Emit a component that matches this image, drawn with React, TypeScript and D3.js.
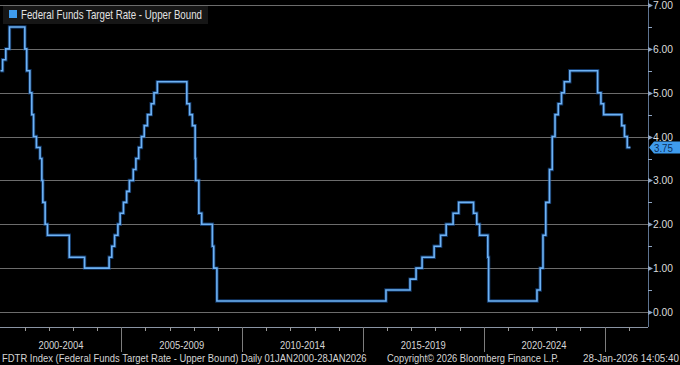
import { useEffect, useRef } from 'react';
import * as d3 from 'd3';

// FDTR upper bound: date of each change and the new level
const changeDates = [
  '2000-01-01', '2000-02-02', '2000-03-21', '2000-05-16',
  '2001-01-03', '2001-01-31', '2001-03-20', '2001-04-18', '2001-05-15', '2001-06-27',
  '2001-08-21', '2001-09-17', '2001-10-02', '2001-11-06', '2001-12-11',
  '2002-11-06', '2003-06-25',
  '2004-06-30', '2004-08-10', '2004-09-21', '2004-11-10', '2004-12-14',
  '2005-02-02', '2005-03-22', '2005-05-03', '2005-06-30', '2005-08-09', '2005-09-20',
  '2005-11-01', '2005-12-13',
  '2006-01-31', '2006-03-28', '2006-05-10', '2006-06-29',
  '2007-09-18', '2007-10-31', '2007-12-11',
  '2008-01-22', '2008-01-30', '2008-03-18', '2008-04-30', '2008-10-08', '2008-10-29', '2008-12-16',
  '2015-12-16', '2016-12-14',
  '2017-03-15', '2017-06-14', '2017-12-13',
  '2018-03-21', '2018-06-13', '2018-09-26', '2018-12-19',
  '2019-08-01', '2019-09-19', '2019-10-31',
  '2020-03-04', '2020-03-16',
  '2022-03-17', '2022-05-05', '2022-06-16', '2022-07-28', '2022-09-22', '2022-11-03', '2022-12-15',
  '2023-02-02', '2023-03-23', '2023-05-04', '2023-07-27',
  '2024-09-19', '2024-11-08', '2024-12-19',
  '2025-09-18', '2025-10-30', '2025-12-11',
  '2026-01-28',
];
const upperBound = [
  5.5, 5.75, 6.0, 6.5,
  6.0, 5.5, 5.0, 4.5, 4.0, 3.75,
  3.5, 3.0, 2.5, 2.0, 1.75,
  1.25, 1.0,
  1.25, 1.5, 1.75, 2.0, 2.25,
  2.5, 2.75, 3.0, 3.25, 3.5, 3.75,
  4.0, 4.25,
  4.5, 4.75, 5.0, 5.25,
  4.75, 4.5, 4.25,
  3.5, 3.0, 2.25, 2.0, 1.5, 1.0, 0.25,
  0.5, 0.75,
  1.0, 1.25, 1.5,
  1.75, 2.0, 2.25, 2.5,
  2.25, 2.0, 1.75,
  1.25, 0.25,
  0.5, 1.0, 1.75, 2.5, 3.25, 4.0, 4.5,
  4.75, 5.0, 5.25, 5.5,
  5.0, 4.75, 4.5,
  4.25, 4.0, 3.75,
  3.75,
];
const yTicks = [0, 1, 2, 3, 4, 5, 6, 7];
const periodStarts = [2000, 2005, 2010, 2015, 2020];

const W = 680;
const H = 365;
const PLOT_RIGHT = 648;
const AXIS_Y = 327;
const FONT = '"Liberation Sans Narrow", "Liberation Sans", Arial, sans-serif';

// Bloomberg's font is narrow: squeeze a text horizontally to a given width
function squeeze(
  g: d3.Selection<SVGGElement, unknown, null, undefined>,
  x: number,
  y: number,
  width: number,
  text: string,
  size: number,
  fill: string,
) {
  const t = g
    .append('text')
    .attr('fill', fill)
    .style('font-family', FONT)
    .style('font-size', `${size}px`)
    .text(text);
  const natural = (t.node() as SVGTextElement).getComputedTextLength() || width;
  t.attr('transform', `translate(${x},${y}) scale(${width / natural},1)`);
  return t;
}

export default function App() {
  const svgRef = useRef<SVGSVGElement>(null);

  useEffect(() => {
    if (!svgRef.current) return;
    const svg = d3.select(svgRef.current);
    svg.selectAll('*').remove();

    const parse = d3.timeParse('%Y-%m-%d');
    const data = changeDates.map((d, i) => ({ date: parse(d) as Date, value: upperBound[i] }));

    const x = d3
      .scaleTime()
      .domain([new Date(2000, 0, 1), new Date(2025, 0, 1)])
      .range([0.5, 604.5]);
    const y = d3.scaleLinear().domain([0, 7]).range([312, 5]);

    svg.append('rect').attr('width', W).attr('height', H).attr('fill', '#000');

    // gridlines
    svg
      .append('g')
      .selectAll('line')
      .data(yTicks)
      .join('line')
      .attr('x1', 0)
      .attr('x2', PLOT_RIGHT)
      .attr('y1', (d) => Math.round(y(d)) + 0.5)
      .attr('y2', (d) => Math.round(y(d)) + 0.5)
      .attr('stroke', '#6c6c6c')
      .attr('stroke-width', 1);

    // bottom axis
    svg
      .append('line')
      .attr('x1', 0)
      .attr('x2', PLOT_RIGHT)
      .attr('y1', AXIS_Y + 0.5)
      .attr('y2', AXIS_Y + 0.5)
      .attr('stroke', '#8a94a4');

    const years = d3.timeYear.range(new Date(2000, 0, 1), new Date(2027, 0, 1));
    svg
      .append('g')
      .selectAll('line')
      .data(years.filter((d) => d.getFullYear() > 2000))
      .join('line')
      .attr('x1', (d) => Math.round(x(d)) + 0.5)
      .attr('x2', (d) => Math.round(x(d)) + 0.5)
      .attr('y1', AXIS_Y)
      .attr('y2', (d) => (d.getFullYear() % 5 === 0 ? 352 : AXIS_Y + 4))
      .attr('stroke', (d) => (d.getFullYear() % 5 === 0 ? '#7d7d7d' : '#9a9a9a'));

    const xLabels = svg.append('g');
    periodStarts.forEach((d) => {
      const mid = (x(new Date(d, 0, 1)) + x(new Date(d + 5, 0, 1))) / 2;
      squeeze(xLabels, mid - 22.5, 349, 45, `${d}-${d + 4}`, 11.5, '#d6d6d6');
    });

    // right axis
    svg
      .append('line')
      .attr('x1', PLOT_RIGHT + 0.5)
      .attr('x2', PLOT_RIGHT + 0.5)
      .attr('y1', 0)
      .attr('y2', AXIS_Y)
      .attr('stroke', '#5d7390');

    const yAxis = svg.append('g');
    yAxis
      .selectAll('path')
      .data(yTicks)
      .join('path')
      .attr('d', (d) => {
        const yy = Math.round(y(d)) + 0.5;
        return `M${PLOT_RIGHT},${yy - 2.5}L${PLOT_RIGHT + 5},${yy}L${PLOT_RIGHT},${yy + 2.5}Z`;
      })
      .attr('fill', '#8fa6c4');
    yAxis
      .selectAll('line')
      .data(yTicks.slice(0, -1).map((d) => d + 0.5))
      .join('line')
      .attr('x1', PLOT_RIGHT)
      .attr('x2', PLOT_RIGHT + 4)
      .attr('y1', (d) => Math.round(y(d)) + 0.5)
      .attr('y2', (d) => Math.round(y(d)) + 0.5)
      .attr('stroke', '#8fa6c4');
    yTicks.forEach((d) => {
      squeeze(yAxis, PLOT_RIGHT + 5, y(d) + 4, 20, d.toFixed(2), 11, '#dcdcdc');
    });

    // series
    const line = d3
      .line<{ date: Date; value: number }>()
      .x((d) => x(d.date))
      .y((d) => y(d.value))
      .curve(d3.curveStepAfter);

    svg
      .append('path')
      .datum(data)
      .attr('d', line)
      .attr('fill', 'none')
      .attr('stroke', '#1d5aa8')
      .attr('stroke-width', 3.4)
      .attr('stroke-opacity', 0.6);
    svg
      .append('path')
      .datum(data)
      .attr('d', line)
      .attr('fill', 'none')
      .attr('stroke', '#6eb2f4')
      .attr('stroke-width', 1.6);

    // last value flag
    const last = data[data.length - 1];
    const ly = y(last.value);
    const flag = svg.append('g');
    flag
      .append('path')
      .attr('d', `M${PLOT_RIGHT + 1},${ly}L${PLOT_RIGHT + 6},${ly - 6}L${W},${ly - 6}L${W},${ly + 6}L${PLOT_RIGHT + 6},${ly + 6}Z`)
      .attr('fill', '#3f9cee');
    squeeze(flag, PLOT_RIGHT + 6, ly + 4, 19, last.value.toFixed(2), 11, '#0b2f5c');

    // legend
    const legend = svg.append('g');
    legend.append('rect').attr('x', 3).attr('y', 6).attr('width', 205).attr('height', 18).attr('fill', '#161616');
    legend.append('rect').attr('x', 9).attr('y', 10).attr('width', 8).attr('height', 8).attr('fill', '#3f9cee');
    squeeze(legend, 21, 19, 181, 'Federal Funds Target Rate - Upper Bound', 12, '#e2e2e2');

    // footer
    const footer = svg.append('g');
    squeeze(footer, 2, 362, 365, 'FDTR Index (Federal Funds Target Rate - Upper Bound) Daily 01JAN2000-28JAN2026', 10.5, '#d4d4d4');
    squeeze(footer, 387, 362, 172, 'Copyright\u00a9 2026 Bloomberg Finance L.P.', 10.5, '#d4d4d4');
    squeeze(footer, 583, 362, 96, '28-Jan-2026 14:05:40', 10.5, '#d4d4d4');
  }, []);

  return (
    <svg
      ref={svgRef}
      width={W}
      height={H}
      style={{ position: 'absolute', left: 0, top: 0, display: 'block' }}
    />
  );
}
